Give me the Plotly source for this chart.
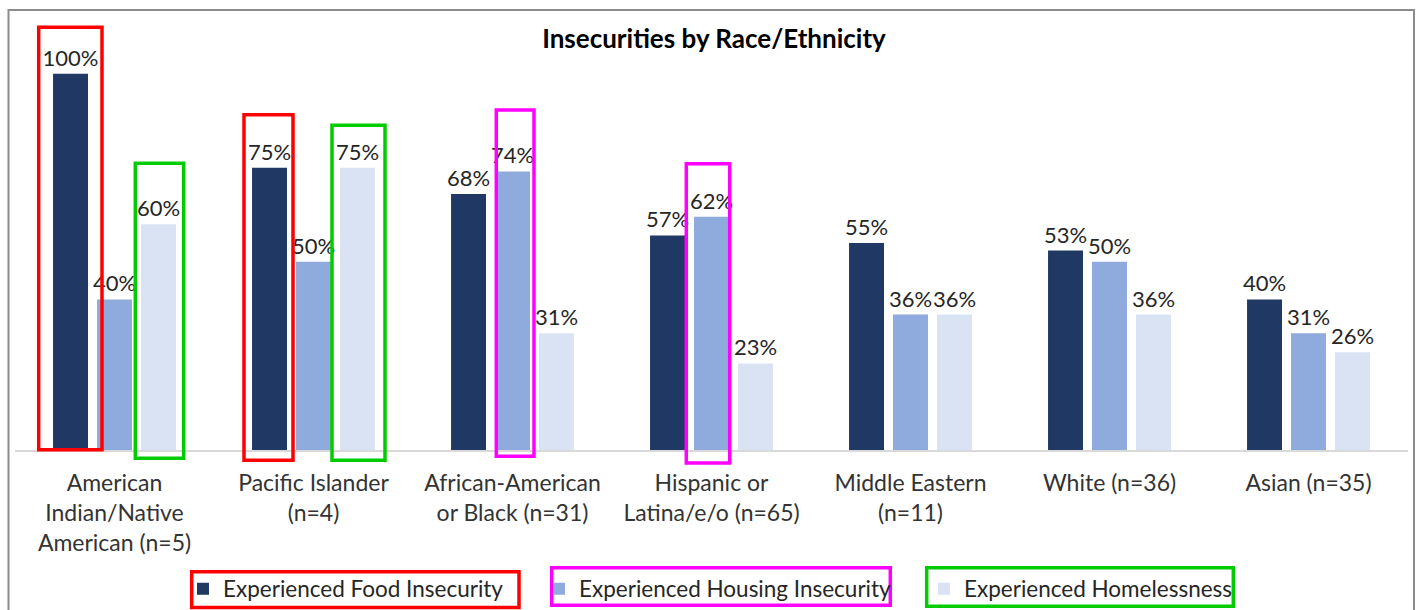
import plotly.graph_objects as go

# ---------------- data ----------------
categories = [
    "American<br>Indian/Native<br>American (n=5)",
    "Pacific Islander<br>(n=4)",
    "African-American<br>or Black (n=31)",
    "Hispanic or<br>Latina/e/o (n=65)",
    "Middle Eastern<br>(n=11)",
    "White (n=36)",
    "Asian (n=35)",
]
food_insecurity = [1.00, 0.75, 0.68, 0.57, 0.55, 0.53, 0.40]
housing_insecurity = [0.40, 0.50, 0.74, 0.62, 0.36, 0.50, 0.31]
homelessness = [0.60, 0.75, 0.31, 0.23, 0.36, 0.36, 0.26]
series_names = [
    "Experienced Food Insecurity",
    "Experienced Housing Insecurity",
    "Experienced Homelessness",
]
title_text = "Insecurities by Race/Ethnicity"

# ---------------- styling ----------------
W, H = 1421, 610
PL, PR, PT, PB = 15, 1408, 36, 450          # plot area in px
FONT = "Lato, 'Open Sans', sans-serif"
colors = ["#203864", "#8FAADC", "#DAE3F3"]
legend_names = ["legend", "legend2", "legend3"]


def px_x(px):
    return (px - PL) / (PR - PL)


def px_y(py):
    return (PB - py) / (PB - PT)


fig = go.Figure()
for name, vals, col, lg in zip(series_names,
                               [food_insecurity, housing_insecurity, homelessness],
                               colors, legend_names):
    fig.add_trace(go.Bar(
        name=name, x=categories, y=vals,
        marker=dict(color=col, line=dict(width=0)),
        text=[f"{round(v * 100)}%" for v in vals],
        textposition="outside", constraintext="none", cliponaxis=False,
        textfont=dict(family=FONT, size=22, color="#262626"),
        legend=lg, hoverinfo="skip",
    ))

# highlight boxes (stroke centre lines, in px), colour
highlight_boxes = [
    (38.7, 27.3, 102.0, 449.7, "#FF0000"),
    (244.0, 114.7, 293.0, 460.3, "#FF0000"),
    (135.3, 163.3, 183.7, 458.3, "#00CC00"),
    (332.0, 125.3, 385.0, 460.3, "#00CC00"),
    (496.3, 110.0, 534.0, 456.3, "#FF00FF"),
    (686.3, 163.7, 729.7, 463.0, "#FF00FF"),
    # legend boxes
    (191.7, 571.7, 519.0, 607.5, "#FF0000"),
    (551.7, 567.7, 890.3, 605.3, "#FF00FF"),
    (926.7, 567.7, 1233.3, 606.3, "#00CC00"),
]
shapes = []
for x0, y0, x1, y1, col in highlight_boxes:
    shapes.append(dict(type="rect", xref="paper", yref="paper",
                       x0=px_x(x0), x1=px_x(x1), y0=px_y(y1), y1=px_y(y0),
                       line=dict(color=col, width=3.5), fillcolor="rgba(0,0,0,0)",
                       layer="above"))
# outer chart border
shapes.append(dict(type="rect", xref="paper", yref="paper",
                   x0=px_x(8.5), x1=px_x(1414), y0=px_y(640), y1=px_y(10),
                   line=dict(color="#8C8C8C", width=2), fillcolor="rgba(0,0,0,0)",
                   layer="below"))

legend_x_px = [183, 539, 924]
legend_common = dict(orientation="h", xref="container", yref="container",
                     xanchor="left", yanchor="middle", y=1 - 589 / H,
                     bgcolor="rgba(0,0,0,0)", borderwidth=0,
                     font=dict(family=FONT, size=22.5, color="#262626"),
                     itemclick=False, itemdoubleclick=False)

fig.update_layout(
    width=W, height=H,
    margin=dict(l=PL, r=W - PR, t=PT, b=H - PB, pad=0),
    paper_bgcolor="white", plot_bgcolor="white",
    barmode="group", bargap=0.337, bargroupgap=0.205,
    title=dict(text=f"<b>{title_text}</b>", x=714 / W, xref="container",
               xanchor="center", y=1 - 39 / H, yref="container", yanchor="middle",
               font=dict(family=FONT, size=26, color="#000000")),
    xaxis=dict(showline=True, linecolor="#D9D9D9", linewidth=1.5, ticks="",
               showgrid=False, ticklabelstandoff=12,
               tickfont=dict(family=FONT, size=23, color="#333333")),
    yaxis=dict(range=[0, 1.1], visible=False, showgrid=False, zeroline=False),
    shapes=shapes,
    legend=dict(x=legend_x_px[0] / W, **legend_common),
    legend2=dict(x=legend_x_px[1] / W, **legend_common),
    legend3=dict(x=legend_x_px[2] / W, **legend_common),
    showlegend=True,
)

fig.write_html(
    "out.html",
    config={"displayModeBar": False},
    post_script="document.body.style.margin='0';document.body.style.overflow='hidden';",
)
